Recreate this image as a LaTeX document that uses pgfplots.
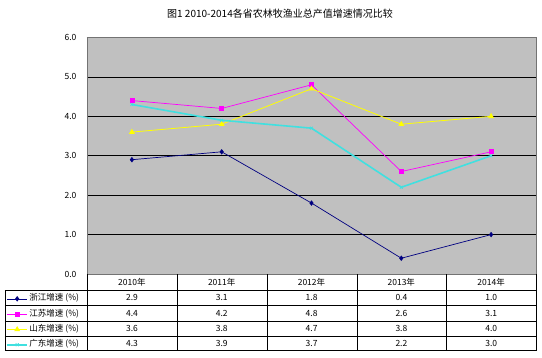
\documentclass[border=0pt]{standalone}
\usepackage{pgfplots}
\pgfplotsset{compat=1.18}
\usepackage{fontspec}
\setmainfont{Noto Sans CJK SC}
\definecolor{zj}{RGB}{0,0,128}
\definecolor{js}{RGB}{255,0,255}
\definecolor{sd}{RGB}{255,255,0}
\definecolor{gd}{RGB}{64,224,224}
\definecolor{bg}{RGB}{192,192,192}
\begin{document}
\begin{tikzpicture}
\begin{axis}[
  name=ax, scale only axis,
  width=449pt, height=236.5pt,
  xmin=-0.5, xmax=4.5, ymin=0, ymax=6,
  ytick={0,1,2,3,4,5,6}, xtick={0,1,2,3,4},
  xticklabels={2010年,2011年,2012年,2013年,2014年},
  xticklabel style={anchor=center, yshift=-8pt},
  major tick length=0pt,
  /pgf/number format/fixed, /pgf/number format/fixed zerofill, /pgf/number format/precision=1,
  /pgf/number format/assume math mode=true,
  ticklabel style={font=\fontsize{8.5}{10}\selectfont},
  yticklabel style={xshift=-7pt},
  axis background/.style={fill=bg},
  ymajorgrids, major grid style={black, line width=0.8pt},
  axis line style={black!55, line width=0.8pt},
  legend cell align=left,
  legend style={at={(-0.1800,-0.0719)}, anchor=north west, draw=none, fill=none,
    inner sep=0pt, row sep=0pt,
    nodes={inner xsep=1.5pt, inner ysep=0pt, text height=9.5pt, text depth=5.8pt, font=\fontsize{8.5}{10}\selectfont}},
  legend image code/.code={\draw[mark repeat=2,mark phase=2,#1] plot coordinates {(0pt,0pt) (10pt,0pt) (20pt,0pt)};},
]
\addplot[color=zj, line width=0.7pt, mark=diamond*, mark size=2.2pt, mark options={fill=zj}] coordinates {(0,2.9) (1,3.1) (2,1.8) (3,0.4) (4,1.0)};
\addlegendentry{浙江增速 (\%)}
\addplot[color=js, line width=0.7pt, mark=square*, mark size=2pt, mark options={fill=js}] coordinates {(0,4.4) (1,4.2) (2,4.8) (3,2.6) (4,3.1)};
\addlegendentry{江苏增速 (\%)}
\addplot[color=sd, line width=0.8pt, mark=triangle*, mark size=2.6pt, mark options={fill=sd}] coordinates {(0,3.6) (1,3.8) (2,4.7) (3,3.8) (4,4.0)};
\addlegendentry{山东增速 (\%)}
\addplot[color=gd, line width=1.6pt, mark=x, mark size=2pt, mark options={line width=0.8pt}] coordinates {(0,4.3) (1,3.9) (2,3.7) (3,2.2) (4,3.0)};
\addlegendentry{广东增速 (\%)}
\end{axis}
\begin{scope}[shift={(ax.south west)}, x=1pt, y=1pt]
\node[font=\fontsize{10}{12}\selectfont] at (193,260) {图1 2010-2014各省农林牧渔业总产值增速情况比较};
% table grid
\foreach \yy in {-16,-31.5,-47,-62,-76.5} {\draw[black, line width=0.8pt] (-82,\yy) -- (449,\yy);}
\draw[black, line width=0.8pt] (-82,-16) -- (-82,-76.5);
\foreach \xx in {0,90,180,270,359,449} {\draw[black, line width=0.8pt] (\xx,0) -- (\xx,-76.5);}
\begin{scope}[every node/.style={font=\fontsize{8.5}{10}\selectfont}]
\foreach \v [count=\i from 0] in {2.9,3.1,1.8,0.4,1.0} {\node at (45+89.8*\i,-23.75) {\v};}
\foreach \v [count=\i from 0] in {4.4,4.2,4.8,2.6,3.1} {\node at (45+89.8*\i,-39.25) {\v};}
\foreach \v [count=\i from 0] in {3.6,3.8,4.7,3.8,4.0} {\node at (45+89.8*\i,-54.5) {\v};}
\foreach \v [count=\i from 0] in {4.3,3.9,3.7,2.2,3.0} {\node at (45+89.8*\i,-69.25) {\v};}
\end{scope}
\pgfresetboundingbox
\path[use as bounding box] (-87,-83) rectangle (455,274);
\end{scope}
\end{tikzpicture}
\end{document}
